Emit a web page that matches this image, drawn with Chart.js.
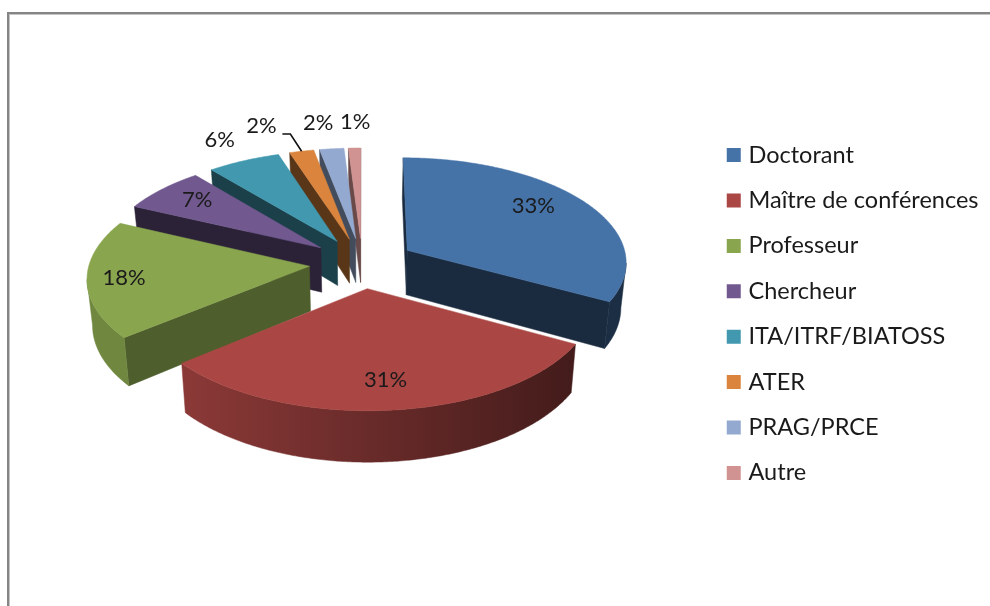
<!DOCTYPE html>
<html><head><meta charset="utf-8">
<style>html,body{margin:0;padding:0;background:#fff}#w{position:absolute;left:0;top:0;width:990px;height:606px}canvas{filter:blur(0.45px)}</style>
<script src="https://cdn.jsdelivr.net/npm/chart.js@4"></script>
</head><body><div id="w"><canvas id="c" width="990" height="606"></canvas></div>
<script>
const categories = ["Doctorant","Maître de conférences","Professeur","Chercheur","ITA/ITRF/BIATOSS","ATER","PRAG/PRCE","Autre"];
const percentages = [33,31,18,7,6,2,2,1];
const colors = ["#4572A7","#AA4643","#89A54E","#71588F","#4198AF","#DB843D","#93A9CF","#D19392"];
const wallShade = [0.38,0.4,0.57,0.39,0.42,0.41,0.45,0.5];
const labelAngleFrac = [0.45,0.5,0.49,0.555,0.5,-0.29,0.29,0.65];
const labelRadius = [0.766,0.772,0.835,0.785,1.285,1.363,1.329,1.325];
const FONT = 'Lato, Carlito, "Open Sans", sans-serif';
const view = {k:0.474, D:2184, depth:45, shiftY:-51, floor:0.98};

function shade(hex,f){
  const n=parseInt(hex.slice(1),16);
  return 'rgb('+[(n>>16)&255,(n>>8)&255,n&255].map(c=>Math.round(c*f)).join(',')+')';
}
function projector(arc){
  const cx=arc.x, cy=arc.y+view.shiftY;
  return function(u,v,low){
    const p=1/(1-v/view.D);
    let x=cx+u*p, y=cy+view.k*v*p;
    if(low){x=cx+(x-cx)*view.floor; y+=view.depth*p;}
    return {x,y};
  };
}
// point of a slice at polar (phi from top, clockwise; r from its exploded apex)
function slicePoint(arc,proj,phi,r,low){
  const mid=(arc.startAngle+arc.endAngle)/2+Math.PI/2, d=arc.options.offset;
  return proj(Math.sin(mid)*d+Math.sin(phi)*r, -Math.cos(mid)*d-Math.cos(phi)*r, low);
}
function poly(ctx,pts,fill){
  ctx.beginPath();pts.forEach((p,i)=>i?ctx.lineTo(p.x,p.y):ctx.moveTo(p.x,p.y));ctx.closePath();
  ctx.fillStyle=fill;ctx.fill();ctx.strokeStyle=fill;ctx.lineWidth=0.5;ctx.stroke();
}
const pie3d={id:'pie3d',
  beforeDraw(chart){
    const c=chart.ctx;c.save();c.fillStyle='#fff';c.fillRect(0,0,990,606);
    c.fillStyle='#c4c4c4';c.fillRect(9,14,981,1);c.fillRect(9,14,1,592);
    c.fillStyle='#858585';c.fillRect(7,12,983,2);c.fillRect(7,12,2,594);c.restore();
  },
  beforeDatasetsDraw(chart){
    const ctx=chart.ctx, arcs=chart.getDatasetMeta(0).data;
    const proj=projector(arcs[0]);
    const order=arcs.map((a,i)=>i).sort((a,b)=>{
      const ya=slicePoint(arcs[a],proj,0,0).y,yb=slicePoint(arcs[b],proj,0,0).y;return ya-yb;});
    ctx.save();
    order.forEach(i=>{
      const a=arcs[i],R=a.outerRadius,s=a.startAngle+Math.PI/2,e=a.endAngle+Math.PI/2;
      const n=Math.max(2,Math.ceil((e-s)/0.01)),top=[],low=[];
      for(let j=0;j<=n;j++){const t=s+(e-s)*j/n;top.push(slicePoint(a,proj,t,R));low.push(slicePoint(a,proj,t,R,true));}
      const A=slicePoint(a,proj,0,0),Al=slicePoint(a,proj,0,0,true);
      const wall=shade(colors[i],wallShade[i]);
      if(top[0].x<A.x)poly(ctx,[A,top[0],low[0],Al],wall);
      if(A.x<top[n].x)poly(ctx,[top[n],A,Al,low[n]],wall);
      const g=ctx.createLinearGradient(183,0,570,0);
      g.addColorStop(0,shade(colors[i],0.82));g.addColorStop(1,shade(colors[i],0.4));
      let run=[],runLow=[];
      for(let j=0;j<=n;j++){
        const vis=(j<n&&top[j+1].x<top[j].x)||(j>0&&top[j].x<top[j-1].x);
        if(vis){run.push(top[j]);runLow.push(low[j]);}
      }
      if(run.length>1)poly(ctx,run.concat(runLow.reverse()),g);
      poly(ctx,[A].concat(top),colors[i]);
    });
    // leader line of the ATER label
    const t=arcs[5],mid=(t.startAngle+t.endAngle)/2+Math.PI/2;
    const lp=labelPoint(t,5,proj),end=slicePoint(t,proj,mid,t.outerRadius);
    ctx.beginPath();ctx.moveTo(lp.x+21,lp.y+8);ctx.lineTo(lp.x+29,lp.y+8);ctx.lineTo(end.x,end.y);
    ctx.strokeStyle='#111';ctx.lineWidth=1.6;ctx.stroke();
    ctx.font='22px '+FONT;ctx.fillStyle='#1a1a1a';ctx.textAlign='center';ctx.textBaseline='middle';
    arcs.forEach((a,i)=>{const p=labelPoint(a,i,proj);ctx.fillText(percentages[i]+'%',p.x,p.y);});
    ctx.restore();
    return false;
  }
};
function labelPoint(a,i,proj){
  const phi=a.startAngle+Math.PI/2+(a.endAngle-a.startAngle)*labelAngleFrac[i];
  return slicePoint(a,proj,phi,a.outerRadius*labelRadius[i]);
}
new Chart(document.getElementById('c'),{
  type:'pie',
  data:{labels:categories,datasets:[{data:percentages,backgroundColor:colors,borderColor:colors,borderWidth:0,offset:53}]},
  options:{
    responsive:false,animation:false,radius:220,
    layout:{padding:{left:15.5,right:1.5,top:22,bottom:0}},
    plugins:{
      tooltip:{enabled:false},
      legend:{position:'right',labels:{
        boxWidth:6,boxHeight:6,padding:21.9,color:'#1a1a1a',font:{family:FONT,size:23.5},
        generateLabels(chart){
          const items=Chart.overrides.pie.plugins.legend.labels.generateLabels(chart);
          items.forEach(it=>{it.lineWidth=8;it.strokeStyle=it.fillStyle;});
          return items;
        }
      }}
    }
  },
  plugins:[pie3d]
});
</script></body></html>
